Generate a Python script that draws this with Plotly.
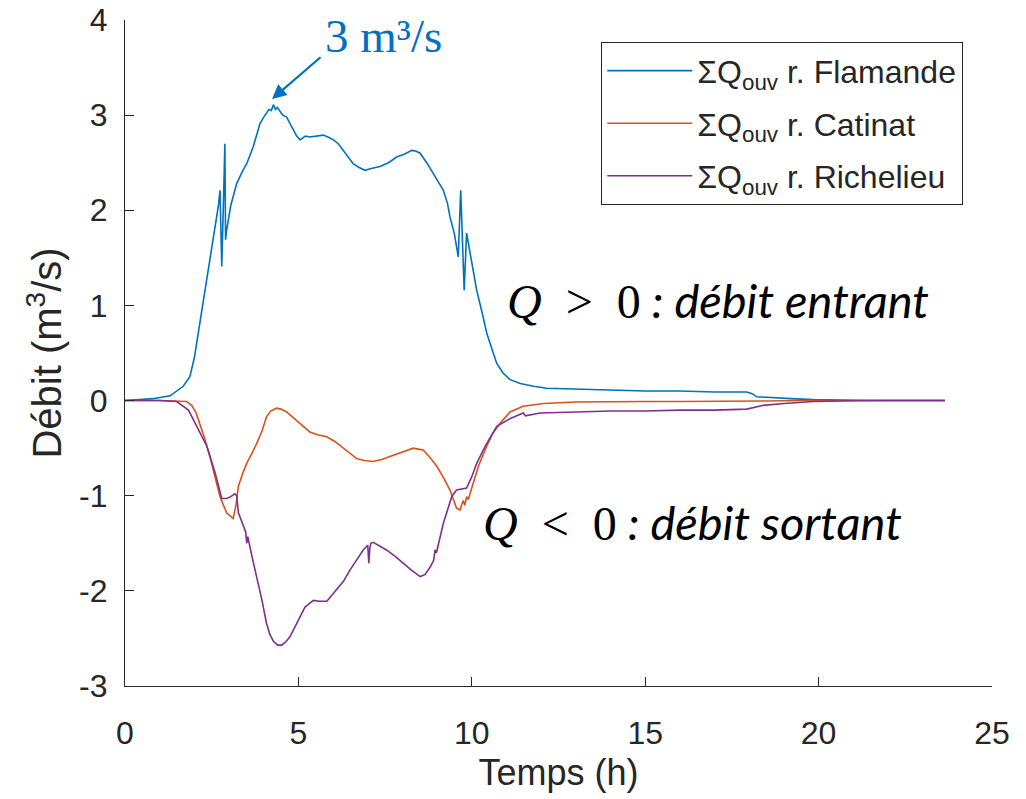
import plotly.graph_objects as go

# ---- data ----
t_flamande = [0, 0.8, 1.3, 1.68, 1.87, 2.0, 2.16, 2.3, 2.45, 2.6,
              2.69, 2.74, 2.79, 2.84, 2.88, 2.9, 2.93, 3.05, 3.22, 3.4,
              3.51, 3.7, 3.89, 4.0, 4.08, 4.15, 4.22, 4.28, 4.34, 4.4,
              4.47, 4.55, 4.66, 4.75, 4.85, 4.95, 5.05, 5.2, 5.33, 5.5,
              5.72, 5.85, 6.01, 6.15, 6.30, 6.45, 6.58, 6.75, 6.92, 7.1,
              7.35, 7.6, 7.83, 8.05, 8.27, 8.4, 8.51, 8.7, 8.89, 9.05,
              9.18, 9.3, 9.37, 9.5, 9.61, 9.68, 9.73, 9.78, 9.85, 10.0,
              10.14, 10.3, 10.43, 10.6, 10.72, 10.9, 11.1, 11.4, 11.78, 12.16,
              13.0, 14.0, 15.0, 16.0, 17.0, 17.93, 18.1, 18.21, 18.6, 19.2,
              19.85, 20.5, 21.5, 22.5, 23.64]
q_flamande = [0, 0.02, 0.05, 0.15, 0.25, 0.45, 0.82, 1.15, 1.51, 1.85,
              2.04, 2.21, 1.41, 2.10, 2.70, 1.69, 1.79, 2.05, 2.28, 2.42,
              2.49, 2.67, 2.91, 2.98, 3.02, 3.06, 3.05, 3.11, 3.06, 3.08,
              3.04, 3.00, 2.98, 2.92, 2.84, 2.78, 2.74, 2.78, 2.77, 2.78,
              2.79, 2.77, 2.74, 2.70, 2.63, 2.55, 2.49, 2.45, 2.42, 2.44,
              2.46, 2.50, 2.56, 2.59, 2.63, 2.62, 2.60, 2.50, 2.39, 2.30,
              2.21, 2.07, 1.93, 1.75, 1.51, 2.21, 1.60, 1.16, 1.76, 1.45,
              1.16, 0.92, 0.71, 0.52, 0.39, 0.29, 0.22, 0.18, 0.15, 0.13,
              0.12, 0.11, 0.10, 0.10, 0.09, 0.09, 0.07, 0.04, 0.03, 0.02,
              0.01, 0.005, 0, 0, 0]

t_catinat = [0, 1.0, 1.78, 1.92, 2.05, 2.16, 2.3, 2.45, 2.6, 2.74,
             2.93, 3.12, 3.2, 3.27, 3.4, 3.51, 3.65, 3.80, 3.95, 4.08,
             4.2, 4.37, 4.5, 4.66, 4.85, 5.05, 5.2, 5.33, 5.55, 5.82,
             6.05, 6.30, 6.5, 6.68, 6.9, 7.16, 7.4, 7.64, 7.93, 8.1,
             8.31, 8.45, 8.60, 8.8, 8.99, 9.2, 9.37, 9.56, 9.66, 9.75,
             9.8, 9.85, 9.9, 10.04, 10.2, 10.43, 10.6, 10.81, 11.1, 11.48,
             12.06, 13.0, 14.0, 15.0, 16.0, 17.0, 18.0, 18.5, 19.5, 20.5,
             21.5, 22.5, 23.64]
q_catinat = [0, 0, -0.01, -0.05, -0.13, -0.24, -0.40, -0.59, -0.80, -1.01,
             -1.18, -1.24, -1.10, -0.90, -0.76, -0.66, -0.56, -0.45, -0.32, -0.17,
             -0.11, -0.08, -0.09, -0.12, -0.18, -0.24, -0.29, -0.33, -0.36, -0.38,
             -0.43, -0.50, -0.56, -0.61, -0.63, -0.64, -0.62, -0.59, -0.55, -0.53,
             -0.50, -0.51, -0.52, -0.60, -0.69, -0.82, -0.94, -1.13, -1.15, -1.05,
             -1.10, -1.01, -1.04, -0.87, -0.68, -0.48, -0.35, -0.24, -0.12, -0.06,
             -0.03, -0.015, -0.01, -0.01, -0.01, -0.01, -0.01, -0.005, 0, 0,
             0, 0, 0]

t_richelieu = [0, 1.0, 1.49, 1.83, 2.07, 2.36, 2.60, 2.79, 2.93, 3.05,
               3.17, 3.22, 3.27, 3.4, 3.48, 3.51, 3.54, 3.65, 3.80, 3.95,
               4.08, 4.18, 4.28, 4.4, 4.52, 4.65, 4.76, 4.95, 5.19, 5.43,
               5.6, 5.82, 6.10, 6.30, 6.49, 6.7, 6.87, 7.0, 7.03, 7.06,
               7.09, 7.16, 7.35, 7.54, 7.8, 8.02, 8.25, 8.51, 8.65, 8.80,
               8.90, 8.94, 8.98, 9.18, 9.30, 9.42, 9.56, 9.70, 9.85, 10.0,
               10.14, 10.4, 10.72, 11.10, 11.40, 11.48, 11.55, 11.97, 13.0, 14.0,
               15.0, 16.0, 17.0, 17.93, 18.41, 19.0, 19.85, 20.5, 21.5, 22.5,
               23.64]
q_richelieu = [0, 0, -0.01, -0.10, -0.27, -0.48, -0.76, -1.03, -1.03, -1.01,
               -0.98, -1.00, -1.18, -1.30, -1.38, -1.50, -1.43, -1.62, -1.85, -2.10,
               -2.34, -2.46, -2.53, -2.57, -2.57, -2.53, -2.48, -2.34, -2.17, -2.10,
               -2.11, -2.11, -1.99, -1.90, -1.78, -1.67, -1.57, -1.52, -1.71, -1.55,
               -1.50, -1.49, -1.53, -1.57, -1.64, -1.71, -1.78, -1.85, -1.83, -1.75,
               -1.68, -1.57, -1.60, -1.29, -1.15, -1.01, -0.94, -0.93, -0.92, -0.80,
               -0.66, -0.47, -0.27, -0.19, -0.14, -0.13, -0.16, -0.13, -0.12, -0.11,
               -0.11, -0.10, -0.10, -0.09, -0.05, -0.03, -0.01, -0.005, 0, 0,
               0]

series_names = ["ΣQ<sub>ouv</sub> r. Flamande",
                "ΣQ<sub>ouv</sub> r. Catinat",
                "ΣQ<sub>ouv</sub> r. Richelieu"]
series_colors = ["#0072BD", "#D95319", "#7E2F8E"]
x_ticks = [0, 5, 10, 15, 20, 25]
y_ticks = [-3, -2, -1, 0, 1, 2, 3, 4]
y_tick_text = ["-3", "-2", "-1", "0", "1", "2", "3", "4"]

AX = "#262626"
SANS = "Liberation Sans, Arial, sans-serif"
SERIF = "Liberation Serif, DejaVu Serif, serif"

fig = go.Figure()
for i, (tt, qq) in enumerate([(t_flamande, q_flamande),
                              (t_catinat, q_catinat),
                              (t_richelieu, q_richelieu)]):
    fig.add_trace(go.Scatter(x=tt, y=qq, mode="lines", name=series_names[i],
                             legendgroup=f"g{i}",
                             line=dict(color=series_colors[i], width=1.6)))

# page body has an 8px default margin: margins compensate for it
fig.update_layout(
    width=1026, height=799,
    margin=dict(l=117, r=42, t=12, b=121, autoexpand=False),
    paper_bgcolor="white", plot_bgcolor="white",
    showlegend=True,
    legend=dict(x=0.549, y=0.967, xanchor="left", yanchor="top",
                bgcolor="white", bordercolor=AX, borderwidth=1.3,
                font=dict(family=SANS, size=32, color=AX),
                tracegroupgap=8, itemwidth=85),
    xaxis=dict(range=[0, 25], tickvals=x_ticks, ticks="inside", ticklen=9,
               tickcolor=AX, showline=True, linecolor=AX, linewidth=1.3,
               showgrid=False, zeroline=False, automargin=False,
               ticklabelstandoff=18, ticklabeloverflow="allow",
               tickfont=dict(family=SANS, size=32, color=AX),
               title=dict(text="Temps (h)", font=dict(family=SANS, size=36, color=AX),
                          standoff=10)),
    yaxis=dict(range=[-3, 4], tickvals=y_ticks, ticktext=y_tick_text,
               ticks="inside", ticklen=9,
               tickcolor=AX, showline=True, linecolor=AX, linewidth=1.3,
               showgrid=False, zeroline=False, automargin=False,
               ticklabelstandoff=10, ticklabeloverflow="allow",
               tickfont=dict(family=SANS, size=32, color=AX),
               title=dict(text="Débit (m<sup>3</sup>/s)",
                          font=dict(family=SANS, size=40, color=AX),
                          standoff=4)),
)

# peak annotation
fig.add_annotation(x=4.24, y=3.17, xref="x", yref="y", text="",
                   showarrow=True, ax=50, ay=-43, arrowhead=2, arrowsize=1.3,
                   arrowwidth=2.2, arrowcolor="#0070C0")
fig.add_annotation(x=0.2976, y=1.018, xref="paper", yref="paper",
                   text="3 m³/s", showarrow=False,
                   font=dict(family=SERIF, size=47, color="#0070C0"),
                   xanchor="center", yanchor="top")

SERIF_SPAN = "<span style='font-family:Liberation Serif;font-size:48px'>"
fig.add_annotation(x=0.684, y=0.58, xref="paper", yref="paper",
                   text=SERIF_SPAN + "<i>Q</i>\u2002>\u20020</span>"
                        "<i> : débit entrant</i>",
                   showarrow=False,
                   font=dict(family="Lato, Open Sans, sans-serif", size=47, color="black"),
                   xanchor="center", yanchor="middle")
fig.add_annotation(x=0.6546, y=0.246, xref="paper", yref="paper",
                   text=SERIF_SPAN + "<i>Q</i>\u2002<\u20020</span>"
                        "<i> : débit sortant</i>",
                   showarrow=False,
                   font=dict(family="Lato, Open Sans, sans-serif", size=47, color="black"),
                   xanchor="center", yanchor="middle")

fig.write_html("out.html")
